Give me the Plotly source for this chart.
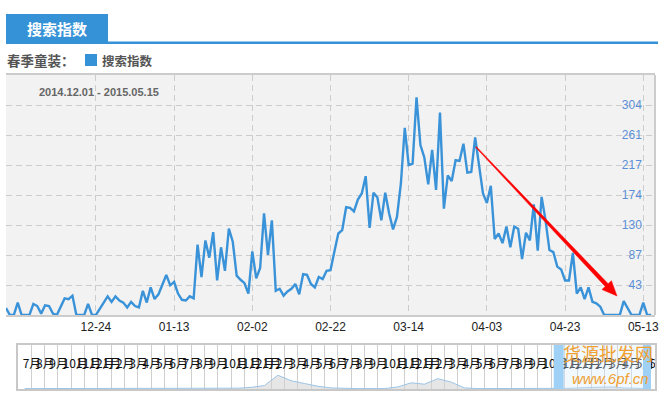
import plotly.graph_objects as go
import pandas as pd
import math

# ---------------- data ----------------
start_date = "2014-12-01"
search_index = [
    10, 0, 0, 18, 0, 0, 0, 16, 13, 2, 14, 13, 2, 0, 12, 24, 23, 28, 0, 0,
    0, 16, 0, 0, 9, 18, 27, 19, 27, 21, 18, 11, 19, 13, 11, 35, 18, 40, 23, 30,
    44, 58, 43, 48, 31, 22, 21, 27, 24, 102, 55, 108, 83, 120, 50, 98, 64, 125, 106, 57,
    51, 46, 31, 92, 53, 68, 147, 87, 137, 35, 38, 28, 34, 38, 45, 30, 59, 58, 45, 40,
    55, 52, 64, 65, 92, 118, 123, 156, 155, 150, 167, 176, 201, 126, 177, 170, 137, 177, 147, 124,
    142, 190, 271, 217, 219, 315, 246, 228, 189, 239, 181, 293, 154, 202, 194, 224, 223, 248, 206, 207,
    257, 220, 176, 162, 187, 110, 118, 104, 128, 98, 128, 125, 81, 119, 108, 160, 93, 171, 137, 94,
    91, 70, 66, 50, 50, 90, 31, 40, 23, 40, 19, 17, 12, 0, 0, 0, 0, 0, 20, 10,
    0, 0, 0, 18, 0, 0,
]
dates = pd.date_range(start_date, periods=len(search_index), freq="D")

x_tick_dates = ["2014-12-24", "2015-01-13", "2015-02-02", "2015-02-22",
                "2015-03-14", "2015-04-03", "2015-04-23", "2015-05-13"]
x_tick_labels = ["12-24", "01-13", "02-02", "02-22", "03-14", "04-03", "04-23", "05-13"]

y_step = 304 / 7
y_tick_values = [y_step * k for k in range(1, 8)]
y_tick_labels = ["43", "87", "130", "174", "217", "261", "304"]

# navigator (months Jul 2011 .. Jun 2015)
nav_months = ["7月", "8月", "9月", "10月", "11月", "12月", "1月", "2月", "3月", "4月", "5月", "6月",
              "7月", "8月", "9月", "10月", "11月", "12月", "1月", "2月", "3月", "4月", "5月", "6月",
              "7月", "8月", "9月", "10月", "11月", "12月", "1月", "2月", "3月", "4月", "5月", "6月",
              "7月", "8月", "9月", "10月", "11月", "12月", "1月", "2月", "3月", "4月", "5月", "6月"]
nav_values = [0.03, 0.03, 0.03, 0.03, 0.03, 0.03, 0.03, 0.03, 0.03, 0.03, 0.03, 0.03,
              0.03, 0.03, 0.03, 0.03, 0.06, 0.12, 0.25, 1.0, 0.6, 0.4, 0.2, 0.08,
              0.03, 0.03, 0.03, 0.03, 0.15, 0.45, 0.35, 0.75, 0.5, 0.08, 0.03, 0.03,
              0.03, 0.03, 0.03, 0.03, 0.03, 0.05, 0.1, 0.12, 0.15, 0.08, 0.04, 0.02]

# ---------------- layout helpers (pixel -> paper) ----------------
W, H = 671, 397
ML, MR, MT, MB = 6, 16, 75, 8
PW, PH = W - ML - MR, H - MT - MB


def px(x):
    return (x - ML) / PW


def py(y):
    return (H - MB - y) / PH


BLUE = "#3592d6"
LINE = "#3a93d8"
GRID = "#cccccc"
FONT = "Liberation Sans, Noto Sans CJK SC, sans-serif"
CJK = "Noto Sans CJK SC, sans-serif"

fig = go.Figure()

fig.add_trace(go.Scatter(
    x=dates, y=search_index, mode="lines",
    line=dict(color=LINE, width=2.4), name="搜索指数",
    xaxis="x", yaxis="y", hoverinfo="x+y",
))

nav_x = [k + 0.5 for k in range(len(nav_values))]
fig.add_trace(go.Scatter(
    x=nav_x, y=nav_values, mode="lines", fill="tozeroy",
    line=dict(color="#9cc4e6", width=1), fillcolor="rgba(210,210,210,0.55)",
    xaxis="x2", yaxis="y2", hoverinfo="skip",
))
fig.add_trace(go.Scatter(
    x=[k + 0.35 for k in range(len(nav_months))], y=[1.75] * len(nav_months),
    mode="text", text=nav_months, textposition="middle right",
    textfont=dict(family=CJK, size=12, color="#111111"),
    xaxis="x2", yaxis="y2", hoverinfo="skip", cliponaxis=True,
))

main_top = 1.0
main_bottom = py(315)
nav_top = py(345)

fig.update_layout(
    width=W, height=H,
    margin=dict(l=ML, r=MR, t=MT, b=MB, pad=0),
    paper_bgcolor="white", plot_bgcolor="white",
    showlegend=False,
    font=dict(family=FONT),
    xaxis=dict(
        domain=[0, 1], anchor="y", type="date",
        range=["2014-12-01", "2015-05-16"],
        tickmode="array",
        tickvals=x_tick_dates, ticktext=x_tick_labels,
        ticklabeloverflow="allow",
        tickfont=dict(size=12, color="#222222", family=FONT),
        showgrid=True, gridcolor=GRID, griddash="6px,4px", gridwidth=1,
        showline=True, linecolor=GRID, linewidth=1.5, mirror=True,
        ticks="", zeroline=False,
    ),
    yaxis=dict(
        domain=[main_bottom, main_top], anchor="free", position=1.0, side="left",
        range=[0, y_step * 8],
        tickvals=y_tick_values, ticktext=y_tick_labels,
        ticklabelstandoff=10,
        tickfont=dict(size=12, color="#5b8fd6", family=FONT),
        showgrid=True, gridcolor=GRID, griddash="6px,4px", gridwidth=1,
        showline=True, linecolor=GRID, linewidth=1.5,
        ticks="", zeroline=False,
    ),
    xaxis2=dict(
        domain=[px(18), 1], anchor="y2", range=[0, 47.8],
        showgrid=True, gridcolor="#cfcfcf", gridwidth=1, tick0=0, dtick=1,
        showticklabels=False, ticks="", zeroline=False,
        showline=True, linecolor="#c8c8c8", linewidth=1.5, mirror=True,
    ),
    yaxis2=dict(
        domain=[0, nav_top], anchor="x2", range=[0, 3.2],
        showgrid=False, showticklabels=False, ticks="", zeroline=False,
        showline=True, linecolor="#c8c8c8", linewidth=1.5, mirror=True,
    ),
)

shapes = [
    # main plot background
    dict(type="rect", xref="x domain", yref="y domain", x0=0, x1=1, y0=0, y1=1,
         fillcolor="#f2f2f2", line_width=0, layer="below"),
    # header tab and rule
    dict(type="rect", xref="paper", yref="paper", x0=px(6), x1=px(108), y0=py(42), y1=py(14),
         fillcolor=BLUE, line_width=0),
    dict(type="rect", xref="paper", yref="paper", x0=px(6), x1=px(658), y0=py(44), y1=py(41.5),
         fillcolor=BLUE, line_width=0),
    # legend swatch
    dict(type="rect", xref="paper", yref="paper", x0=px(85), x1=px(97), y0=py(66), y1=py(54),
         fillcolor=BLUE, line_width=0),
    # navigator selection handles
    dict(type="rect", xref="x2", yref="y2 domain", x0=40.2, x1=40.95, y0=0, y1=1,
         fillcolor="#9fd0f5", line_width=0, layer="above"),
    dict(type="rect", xref="x2", yref="y2 domain", x0=46.9, x1=47.5, y0=0, y1=1,
         fillcolor="#9fd0f5", line_width=0, layer="above"),
    dict(type="rect", xref="x2", yref="y2 domain", x0=40.95, x1=46.9, y0=0, y1=1,
         fillcolor="rgba(215,235,252,0.35)", line_width=0, layer="above"),
]

# red tapered arrow (annotation drawn on top of the chart)
sx, sy = 476, 147
tx, ty = 617, 296
dx, dy = tx - sx, ty - sy
L = math.hypot(dx, dy)
ux, uy = dx / L, dy / L
nx, ny = -uy, ux
head_len, head_hw = 15, 6.5
bx, by = tx - head_len * ux, ty - head_len * uy
pts = [
    (sx + 0.5 * nx, sy + 0.5 * ny),
    (bx + 2.0 * nx, by + 2.0 * ny),
    (bx + head_hw * nx, by + head_hw * ny),
    (tx, ty),
    (bx - head_hw * nx, by - head_hw * ny),
    (bx - 2.0 * nx, by - 2.0 * ny),
    (sx - 0.5 * nx, sy - 0.5 * ny),
]
path = "M " + " L ".join(f"{px(a):.5f},{py(b):.5f}" for a, b in pts) + " Z"
shapes.append(dict(type="path", xref="paper", yref="paper", path=path,
                   fillcolor="#ff0000", line=dict(color="#ff0000", width=0.5), layer="above"))

fig.update_layout(shapes=shapes)

annotations = [
    dict(text="<b>搜索指数</b>", x=px(57), y=py(28.5), xref="paper", yref="paper",
         showarrow=False, font=dict(family=CJK, size=15, color="white"),
         xanchor="center", yanchor="middle"),
    dict(text="<b>春季童装：</b>", x=px(5), y=py(60.5), xref="paper", yref="paper",
         showarrow=False, font=dict(family=CJK, size=13.5, color="#555555"),
         xanchor="left", yanchor="middle"),
    dict(text="<b>搜索指数</b>", x=px(100), y=py(60.5), xref="paper", yref="paper",
         showarrow=False, font=dict(family=CJK, size=12.5, color="#555555"),
         xanchor="left", yanchor="middle"),
    dict(text="<b>2014.12.01 - 2015.05.15</b>", x=px(37), y=py(92), xref="paper", yref="paper",
         showarrow=False, font=dict(family=FONT, size=11, color="#666666"),
         xanchor="left", yanchor="middle"),
    # watermark
    dict(text="货源批发网", x=px(608), y=py(353), xref="paper", yref="paper",
         showarrow=False, font=dict(family=CJK, size=18, color="#f0a030"),
         xanchor="center", yanchor="middle"),
    dict(text="<i>www.6pf.cn</i>", x=px(610), y=py(378), xref="paper", yref="paper",
         showarrow=False, font=dict(family=FONT, size=15, color="#f0a030"),
         xanchor="center", yanchor="middle"),
]
fig.update_layout(annotations=annotations)

fig.write_html("out.html", config={"displayModeBar": False},
               post_script="document.body.style.margin='0px';")
